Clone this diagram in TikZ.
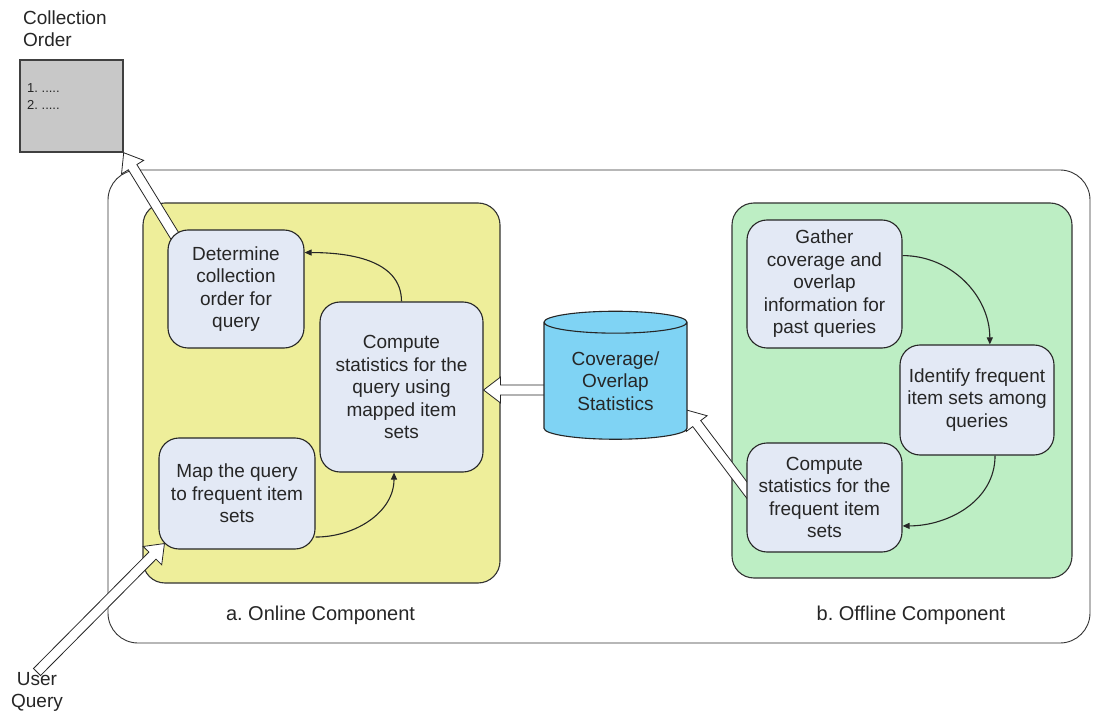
\documentclass[tikz,border=0pt]{standalone}
\usepackage{fontspec}
\setmainfont{Liberation Sans}
\usetikzlibrary{shapes.geometric, arrows.meta, positioning, calc, backgrounds}
\definecolor{onlineyellow}{HTML}{EEEE9A}
\definecolor{offlinegreen}{HTML}{BDEEC4}
\definecolor{stepblue}{HTML}{E3E9F5}
\definecolor{statblue}{HTML}{7FD3F4}
\definecolor{ordergray}{HTML}{C8C8C8}
\definecolor{inkgray}{HTML}{262626}
\frenchspacing

% hollow block arrow from #1 (tail) to #2 (tip)
\newcommand{\hollowarrow}[2]{%
  \path ($(#2)!17pt!(#1)$) coordinate (ha-base);
  \draw[blockarrow] ($(#1)!5pt!90:(#2)$) -- ($(ha-base)!5pt!90:(#2)$)
    -- ($(ha-base)!13pt!90:(#2)$) -- (#2) -- ($(ha-base)!13pt!-90:(#2)$)
    -- ($(ha-base)!5pt!-90:(#2)$) -- ($(#1)!5pt!-90:(#2)$) -- cycle;
}

\begin{document}
\begin{tikzpicture}[x=1pt, y=-1pt,
  plain/.style={inner sep=0pt, text=inkgray, font=\fontsize{19}{22.5}\selectfont},
  stepbox/.style={plain, rectangle, rounded corners=20pt, draw=black!85, line width=1.1pt, fill=stepblue, align=center},
  panel/.style={rounded corners=22pt, draw=black!80, line width=1.1pt},
  blockarrow/.style={draw=black!85, line width=0.8pt, fill=white, line join=miter},
  flow/.style={draw=black!85, line width=1.1pt, -{Triangle[length=7pt, width=6pt]}},
  dbcyl/.style={plain, cylinder, shape border rotate=90, aspect=0.25, draw=black!85, line width=1.1pt, fill=statblue, align=center, minimum width=143pt, minimum height=128pt},
  orderbox/.style={rectangle, draw=black!75, line width=1.4pt, fill=ordergray, minimum width=103pt, minimum height=92pt}]
\useasboundingbox (0,0) rectangle (1098,711);

% order list
\node[plain, align=left, anchor=west] (ordtitle) at (23,28.5) {Collection\\Order};
\node[orderbox] (coll) at (71.5,106) {};
\node[plain, font=\fontsize{13}{17}\selectfont, align=left, anchor=west] (orditems) at (27,97) {1. .....\\2. .....};

% online steps
\node[stepbox, minimum width=136pt, minimum height=118pt] (det) at (236,289) {Determine\\collection\\order for\\query};
\node[stepbox, minimum width=163pt, minimum height=170pt] (conl) at (401.5,387) {Compute\\statistics for the\\query using\\mapped item\\sets};
\node[stepbox, minimum width=156pt, minimum height=111pt] (map) at (237,493.5) {Map the query\\to frequent item\\sets};

% statistics store
\node[dbcyl] (stat) at (615.5,381) {Coverage/\\Overlap\\Statistics};

% offline steps
\node[stepbox, minimum width=155pt, minimum height=128pt] (gath) at (824.5,284) {Gather\\coverage and\\overlap\\information for\\past queries};
\node[stepbox, minimum width=154pt, minimum height=110pt] (ident) at (977,400) {Identify frequent\\item sets among\\queries};
\node[stepbox, minimum width=155pt, minimum height=109pt] (coff) at (824.5,497.5) {Compute\\statistics for the\\frequent item\\sets};

\node[plain, align=center] (uq) at (37,692) {User\\Query};
\node[plain, font=\fontsize{20}{24}\selectfont] (onlab) at (320.5,615) {a. Online Component};
\node[plain, font=\fontsize{20}{24}\selectfont] (offlab) at (911,615) {b. Offline Component};

% step order
\draw[flow] (conl.north) to[out=90, in=0] (det.28);
\draw[flow] (map.-29) to[out=0, in=-90] (conl.265);
\draw[flow] (gath.20) to[out=0, in=90] (ident.77);
\draw[flow] (ident.-72) to[out=-90, in=0] (coff.-20);

\begin{scope}[on background layer]
  \fill[white] (0,0) rectangle (1098,711);
  \draw[panel, rounded corners=30pt, line width=0.9pt] (108,170) rectangle (1090,643);
  \draw[panel, fill=onlineyellow] (143,203) rectangle (500,583);
  \draw[panel, fill=offlinegreen] (732,203) rectangle (1072,578);
  % data flow
  \coordinate (ordtail) at ($(det.north west)+(12,14)$);
  \hollowarrow{ordtail}{coll.south east}
  \coordinate (statout) at ($(stat.center)+(-60,9)$);
  \coordinate (conlin) at ($(conl.east)+(0,3)$);
  \hollowarrow{statout}{conlin}
  \coordinate (cofftail) at ($(coff.west)+(6,0)$);
  \coordinate (statin) at ($(stat.center)+(71,29)$);
  \hollowarrow{cofftail}{statin}
  \coordinate (maptip) at ($(map.south west)+(6,-6)$);
  \hollowarrow{uq.north}{maptip}
\end{scope}
\end{tikzpicture}
\end{document}
